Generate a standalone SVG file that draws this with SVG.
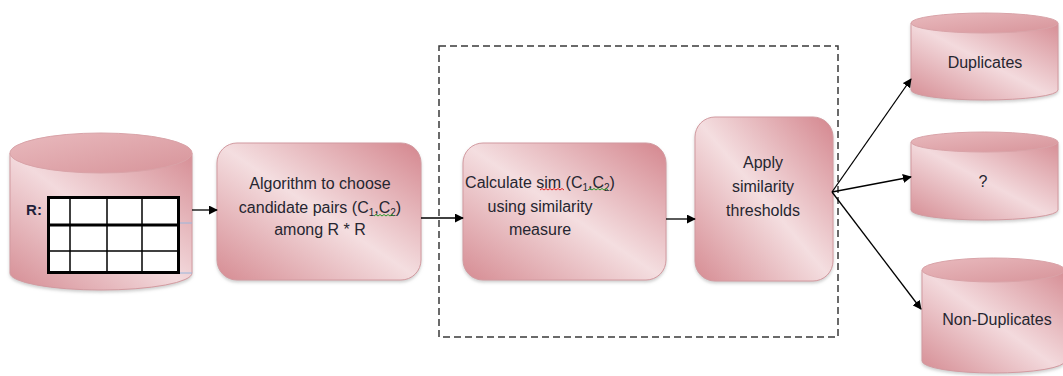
<svg xmlns="http://www.w3.org/2000/svg" width="1063" height="376" viewBox="0 0 1063 376">
<defs>
  <linearGradient id="boxGrad" x1="1" y1="0" x2="0" y2="1">
    <stop offset="0" stop-color="#d4868e"/>
    <stop offset="0.5" stop-color="#f4dee0"/>
    <stop offset="1" stop-color="#d68c93"/>
  </linearGradient>
  <linearGradient id="cylGrad" x1="1" y1="0" x2="0" y2="1">
    <stop offset="0" stop-color="#d68e95"/>
    <stop offset="0.5" stop-color="#f3dadd"/>
    <stop offset="1" stop-color="#d58c93"/>
  </linearGradient>
  <linearGradient id="topGrad" x1="0" y1="0" x2="1" y2="1">
    <stop offset="0" stop-color="#e9babe"/>
    <stop offset="1" stop-color="#d7949a"/>
  </linearGradient>
  <filter id="sh" x="-10%" y="-10%" width="120%" height="130%">
    <feDropShadow dx="0" dy="2" stdDeviation="1.5" flood-color="#a0a0a0" flood-opacity="0.5"/>
  </filter>
  <marker id="arr" viewBox="0 0 10 10" refX="9" refY="5" markerWidth="9" markerHeight="9" markerUnits="userSpaceOnUse" orient="auto">
    <path d="M0,0 L10,5 L0,10 Z" fill="#000"/>
  </marker>
  <style>
    .box { fill: url(#boxGrad); stroke: #d29aa0; stroke-width: 1; filter: url(#sh); }
    .cyl { fill: url(#cylGrad); stroke: #d29aa0; stroke-width: 1; filter: url(#sh); }
    .top { fill: url(#topGrad); stroke: #d9a3a8; stroke-width: 1; }
    .lbl { font-family: "Liberation Sans", Arial, sans-serif; font-size: 16px; fill: #262630; text-anchor: middle; }
    .sub { font-size: 10px; }
    .conn { stroke: #000; stroke-width: 1.3; fill: none; }
    .thick { stroke: #000; stroke-width: 3; fill: none; }
    .thin { stroke: #000; stroke-width: 1.5; fill: none; }
    .red { stroke: #e02020; stroke-width: 1; fill: none; }
    .green { stroke: #2a9a2a; stroke-width: 1; fill: none; }
  </style>
</defs>
<rect width="1063" height="376" fill="#ffffff"/>

<!-- dashed boundary -->
<rect x="439" y="46" width="399" height="291" fill="none" stroke="#3a3a3a" stroke-width="1.5" stroke-dasharray="7 4"/>

<!-- R cylinder -->
<g id="node-R">
  <path class="cyl" d="M10,153 L10,273 A91,17 0 0 0 192,273 L192,153 Z"/>
  <ellipse class="top" cx="101" cy="153" rx="91" ry="20"/>
  <text x="34" y="215" font-family="'Liberation Sans', Arial, sans-serif" font-size="15" font-weight="bold" fill="#1f1f3a" text-anchor="middle">R:</text>
  <rect x="47" y="196" width="133" height="78" fill="#ffffff"/>
  <line class="thin" x1="70" y1="196" x2="70" y2="274"/>
  <line class="thin" x1="107" y1="196" x2="107" y2="274"/>
  <line class="thin" x1="142" y1="196" x2="142" y2="274"/>
  <line class="thin" x1="47" y1="251" x2="180" y2="251"/>
  <line class="thick" x1="47" y1="225" x2="180" y2="225"/>
  <rect class="thick" x="48.5" y="197.5" width="130" height="75"/>
  <line x1="180" y1="223" x2="192" y2="223" stroke="#9ab6dc" stroke-width="1"/>
  <line x1="180" y1="273" x2="192" y2="273" stroke="#9ab6dc" stroke-width="1"/>
</g>

<!-- Algorithm box -->
<g id="node-algorithm">
  <rect class="box" x="217" y="143" width="204" height="137" rx="20" ry="20"/>
  <text class="lbl" x="320" y="189">Algorithm to choose</text>
  <text class="lbl" x="320" y="213">candidate pairs (C<tspan class="sub" dy="3">1</tspan><tspan dy="-3">,C</tspan><tspan class="sub" dy="3">2</tspan><tspan dy="-3">)</tspan></text>
  <text class="lbl" x="320" y="235">among R * R</text>
  <path class="green" d="M374,216 l2,-1.5 l2,1.5 l2,-1.5 l2,1.5 l2,-1.5 l2,1.5 l2,-1.5 l2,1.5 l2,-1.5 l2,1.5"/>
</g>

<!-- Calculate box -->
<g id="node-calculate">
  <rect class="box" x="463" y="143" width="203" height="137" rx="20" ry="20"/>
  <text class="lbl" x="540" y="188">Calculate sim (C<tspan class="sub" dy="3">1</tspan><tspan dy="-3">,C</tspan><tspan class="sub" dy="3">2</tspan><tspan dy="-3">)</tspan></text>
  <text class="lbl" x="540" y="212">using similarity</text>
  <text class="lbl" x="540" y="235">measure</text>
  <path class="red" d="M540,190 l2,-1.5 l2,1.5 l2,-1.5 l2,1.5 l2,-1.5 l2,1.5 l2,-1.5 l2,1.5 l2,-1.5 l2,1.5 l2,-1.5 l2,1.5"/>
  <path class="green" d="M588,190 l2,-1.5 l2,1.5 l2,-1.5 l2,1.5 l2,-1.5 l2,1.5 l2,-1.5 l2,1.5 l2,-1.5 l2,1.5"/>
</g>

<!-- Apply box -->
<g id="node-apply">
  <rect class="box" x="695" y="117" width="138" height="164" rx="20" ry="20"/>
  <text class="lbl" x="763" y="168">Apply</text>
  <text class="lbl" x="763" y="192">similarity</text>
  <text class="lbl" x="763" y="216">thresholds</text>
</g>

<!-- Duplicates cylinder -->
<g id="node-duplicates">
  <path class="cyl" d="M911,23 L911,90 A73.5,10 0 0 0 1058,90 L1058,23 Z"/>
  <ellipse class="top" cx="984.5" cy="23" rx="73.5" ry="10"/>
  <text class="lbl" x="985" y="68">Duplicates</text>
</g>

<!-- ? cylinder -->
<g id="node-unknown">
  <path class="cyl" d="M911,142 L911,210 A73.5,10 0 0 0 1058,210 L1058,142 Z"/>
  <ellipse class="top" cx="984.5" cy="142" rx="73.5" ry="10"/>
  <text class="lbl" x="983" y="187">?</text>
</g>

<!-- Non-Duplicates cylinder -->
<g id="node-nonduplicates">
  <path class="cyl" d="M922,270 L922,361 A71.5,12 0 0 0 1065,361 L1065,270 Z"/>
  <ellipse class="top" cx="993.5" cy="270" rx="71.5" ry="12"/>
  <text class="lbl" x="997" y="325">Non-Duplicates</text>
</g>

<!-- connectors -->
<g id="connectors">
  <line class="conn" x1="192" y1="210" x2="217" y2="210" marker-end="url(#arr)"/>
  <line class="conn" x1="421" y1="218" x2="463" y2="218" marker-end="url(#arr)"/>
  <line class="conn" x1="666" y1="219" x2="695" y2="219" marker-end="url(#arr)"/>
  <line class="conn" x1="832" y1="192" x2="911" y2="79" marker-end="url(#arr)"/>
  <line class="conn" x1="832" y1="192" x2="911" y2="177" marker-end="url(#arr)"/>
  <line class="conn" x1="832" y1="192" x2="921" y2="309" marker-end="url(#arr)"/>
</g>
</svg>
